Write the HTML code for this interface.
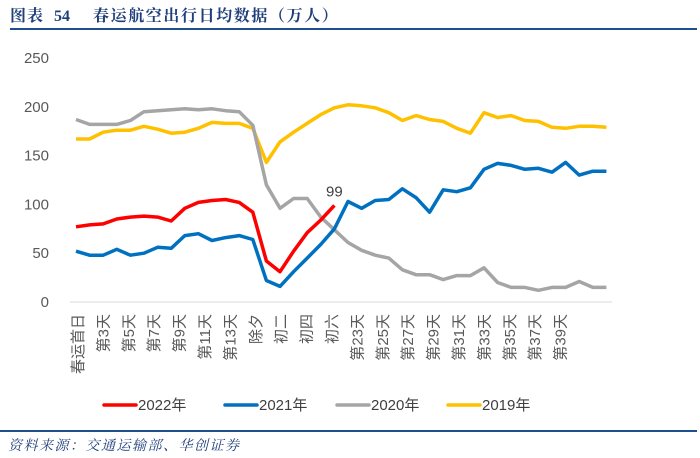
<!DOCTYPE html>
<html><head><meta charset="utf-8"><style>
body{margin:0;background:#fff;}
svg{display:block;font-family:"Liberation Sans","Noto Sans CJK SC",sans-serif;}
</style></head><body>
<svg width="700" height="458" viewBox="0 0 700 458">
<g font-family="'Liberation Serif','Noto Serif CJK SC',serif" font-size="16" font-weight="bold" fill="#1f3f7a">
<text x="10" y="21" letter-spacing="1">图表</text>
<text x="54" y="21">54</text>
<text x="93" y="21" letter-spacing="1.6">春运航空出行日均数据（万人）</text>
</g>
<rect x="10" y="28" width="687" height="2" fill="#1f4e8c"/>
<g id="yaxis"></g>
<line x1="70" y1="302" x2="612" y2="302" stroke="#d9d9d9" stroke-width="1"/>
<g id="xlabels"></g>
<g id="series"></g>
<g id="legend"></g>
<rect x="0" y="430" width="697" height="2" fill="#1f4e8c"/>
<text x="8" y="450" font-family="'Liberation Serif','Noto Serif CJK SC',serif" font-size="14" font-style="italic" letter-spacing="1.5" fill="#1f3f7a">资料来源：交通运输部、华创证券</text>
</svg>
<script>
const categories=["春运首日","第2天","第3天","第4天","第5天","第6天","第7天","第8天","第9天","第10天","第11天","第12天","第13天","第14天","除夕","初一","初二","初三","初四","初五","初六","初七","第23天","第24天","第25天","第26天","第27天","第28天","第29天","第30天","第31天","第32天","第33天","第34天","第35天","第36天","第37天","第38天","第39天","第40天"];
const tickLabels=["春运首日","第3天","第5天","第7天","第9天","第11天","第13天","除夕","初二","初四","初六","第23天","第25天","第27天","第29天","第31天","第33天","第35天","第37天","第39天"];
const yTicks=[0,50,100,150,200,250];
const s2022=[77,79,80,85,87,88,87,83,96,102,104,105,102,92,42,31,52,71,84,99];
const s2021=[52,48,48,54,48,50,56,55,68,70,63,66,68,64,22,16,31,45,59,75,103,96,104,105,116,107,92,115,113,117,136,142,140,136,137,133,143,130,134,134];
const s2020=[187,182,182,182,186,195,196,197,198,197,198,196,195,181,120,96,106,106,87,74,61,53,48,45,33,28,28,23,27,27,35,20,15,15,12,15,15,21,15,15];
const s2019=[167,167,174,176,176,180,177,173,174,178,184,183,183,178,143,164,174,183,192,199,202,201,199,194,186,191,187,185,178,173,194,189,191,186,185,179,178,180,180,179];
const seriesNames=["2022年","2021年","2020年","2019年"];
const NS="http://www.w3.org/2000/svg";
function x(i){return 76+i*13.6;}
function y(v){return 302-v*0.976;}
function mk(t,a,p){const e=document.createElementNS(NS,t);for(const k in a)e.setAttribute(k,a[k]);p.appendChild(e);return e;}
const ya=document.getElementById('yaxis');
yTicks.forEach(v=>{const t=mk('text',{x:49,y:y(v)+5,'text-anchor':'end','font-size':15,fill:'#595959'},ya);t.textContent=v;

});
const xl=document.getElementById('xlabels');
tickLabels.forEach((s,k)=>{const px=83+k*25.4;const t=mk('text',{transform:`translate(${px},314) rotate(-90)`,'text-anchor':'end','font-size':15,fill:'#595959'},xl);t.textContent=s;

});
const sg=document.getElementById('series');
const cols=["#ff0000","#0070c0","#a5a5a5","#ffc000"];
const data=[s2022,s2021,s2020,s2019];
[3,2,1,0].forEach(k=>{const d=data[k].map((v,i)=>(i?'L':'M')+x(i).toFixed(1)+','+y(v).toFixed(1)).join('');
const p=mk('path',{d:d,fill:'none',stroke:cols[k],'stroke-width':3.5,'stroke-linejoin':'round'},sg);

});
const last=s2022.length-1;
const lb=mk('text',{x:x(last),y:y(s2022[last])-9,'text-anchor':'middle','font-size':15,fill:'#404040'},sg);lb.textContent=s2022[last];


const lg=document.getElementById('legend');
const lx=[104,225,337,448];
seriesNames.forEach((n,k)=>{const g=mk('g',{},lg);


mk('line',{x1:lx[k],y1:405,x2:lx[k]+32,y2:405,stroke:cols[k],'stroke-width':3.5,'stroke-linecap':'round'},g);
const t=mk('text',{x:lx[k]+34,y:410,'font-size':15,fill:'#404040'},g);t.textContent=n;});
</script>
</body></html>
